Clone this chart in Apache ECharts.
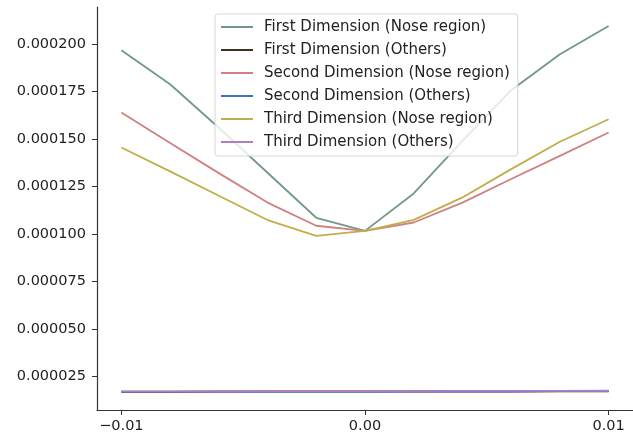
<!DOCTYPE html>
<html>
<head>
<meta charset="utf-8">
<script src="https://cdn.jsdelivr.net/npm/echarts@6/dist/echarts.min.js"></script>
<style>
  html, body { margin: 0; padding: 0; background: #fff; }
  #chart { width: 633px; height: 442px; }
</style>
</head>
<body>
<div id="chart"></div>
<script>
// Perturbation step along each dimension
const xValues = [-0.01, -0.008, -0.006, -0.004, -0.002, 0, 0.002, 0.004, 0.006, 0.008, 0.01];

// Mean response per region
const firstNose    = [196.8e-6, 178.9e-6, 156.0e-6, 132.3e-6, 108.6e-6, 101.7e-6, 121.4e-6, 149.1e-6, 175.8e-6, 194.7e-6, 209.6e-6];
const firstOthers  = [16.9e-6, 16.9e-6, 17.0e-6, 17.0e-6, 17.0e-6, 17.0e-6, 17.1e-6, 17.1e-6, 17.1e-6, 17.2e-6, 17.2e-6];
const secondNose   = [164.0e-6, 148.0e-6, 132.1e-6, 116.6e-6, 104.4e-6, 101.7e-6, 106.1e-6, 116.6e-6, 129.0e-6, 141.2e-6, 153.5e-6];
const secondOthers = [17.0e-6, 17.0e-6, 17.1e-6, 17.1e-6, 17.1e-6, 17.1e-6, 17.2e-6, 17.2e-6, 17.2e-6, 17.3e-6, 17.3e-6];
const thirdNose    = [145.6e-6, 133.0e-6, 120.2e-6, 107.4e-6, 99.1e-6, 101.7e-6, 107.5e-6, 119.3e-6, 134.2e-6, 148.6e-6, 160.5e-6];
const thirdOthers  = [17.2e-6, 17.2e-6, 17.2e-6, 17.3e-6, 17.3e-6, 17.3e-6, 17.3e-6, 17.4e-6, 17.4e-6, 17.4e-6, 17.5e-6];

const seriesNames = [
  'First Dimension (Nose region)',
  'First Dimension (Others)',
  'Second Dimension (Nose region)',
  'Second Dimension (Others)',
  'Third Dimension (Nose region)',
  'Third Dimension (Others)'
];
const seriesColors = ['#6e9a87', '#3d3120', '#d08080', '#3a74c4', '#c0ae4c', '#b07cc4'];
const seriesData = [firstNose, firstOthers, secondNose, secondOthers, thirdNose, thirdOthers];

const xTicks = [-0.01, 0, 0.01];
const yTicks = [25e-6, 50e-6, 75e-6, 100e-6, 125e-6, 150e-6, 175e-6, 200e-6];

const font = 'DejaVu Sans';
const axisColor = '#333';

const chart = echarts.init(document.getElementById('chart'), null, { renderer: 'canvas' });

chart.setOption({
  animation: false,
  backgroundColor: '#fff',
  grid: { left: 97, right: -3.5, top: 7, bottom: 32, containLabel: false },
  xAxis: {
    type: 'value',
    min: -0.011,
    max: 0.011,
    splitLine: { show: false },
    axisLine: { show: true, onZero: false, lineStyle: { color: axisColor, width: 1.2 } },
    axisTick: { show: true, length: 5, customValues: xTicks, lineStyle: { color: axisColor } },
    axisLabel: {
      customValues: xTicks,
      margin: 9,
      color: '#222',
      fontFamily: font,
      fontSize: 14.5,
      formatter: v => (v < 0 ? '\u2212' : '') + Math.abs(v).toFixed(2)
    }
  },
  yAxis: {
    type: 'value',
    min: 7.35e-6,
    max: 219.6e-6,
    splitLine: { show: false },
    axisLine: { show: true, onZero: false, lineStyle: { color: axisColor, width: 1.2 } },
    axisTick: { show: true, length: 5, customValues: yTicks, lineStyle: { color: axisColor } },
    axisLabel: {
      customValues: yTicks,
      margin: 11,
      color: '#222',
      fontFamily: font,
      fontSize: 14.5,
      formatter: v => v.toFixed(6)
    }
  },
  legend: {
    orient: 'vertical',
    left: 215,
    top: 14,
    padding: [5, 8, 6, 6],
    icon: 'rect',
    itemWidth: 32,
    itemHeight: 2,
    itemGap: 7,
    backgroundColor: 'rgba(255,255,255,0.8)',
    borderColor: '#d6d6d6',
    borderWidth: 1,
    borderRadius: 3,
    textStyle: { fontFamily: font, fontSize: 15, lineHeight: 16, color: '#222', padding: [0, 0, 0, 6] },
    data: seriesNames
  },
  series: seriesNames.map((name, i) => ({
    name,
    type: 'line',
    symbol: 'none',
    showSymbol: false,
    color: seriesColors[i],
    lineStyle: { width: 1.8, color: seriesColors[i] },
    data: xValues.map((x, j) => [x, seriesData[i][j]]),
    z: 2 + i
  }))
});
</script>
</body>
</html>
